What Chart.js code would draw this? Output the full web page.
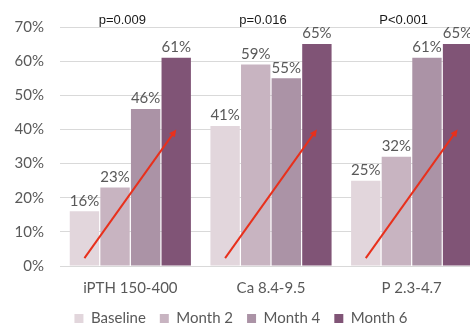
<!DOCTYPE html>
<html>
<head>
<meta charset="utf-8">
<script src="https://cdn.jsdelivr.net/npm/chart.js@4.4.1/dist/chart.umd.min.js"></script>
<style>
  html, body { margin: 0; padding: 0; background: #fff; overflow: hidden; }
  #wrap { position: absolute; left: 0; top: 0; width: 482px; height: 324px; }
</style>
</head>
<body>
<div id="wrap"><canvas id="chart"></canvas></div>
<script>
// datos
const categories = ['iPTH 150-400', 'Ca 8.4-9.5', 'P 2.3-4.7'];
const seriesNames = ['Baseline', 'Month 2', 'Month 4', 'Month 6'];
const baseline = [16, 41, 25];
const month2 = [23, 59, 32];
const month4 = [46, 55, 61];
const month6 = [61, 65, 65];
const pValues = ['p=0.009', 'p=0.016', 'P<0.001'];
const arrowFrom = [2.3, 2.3, 2.3]; // valor en la barra Baseline
const arrowTo = [40, 40, 40];      // valor en la barra Month 6
const yTicks = [0, 10, 20, 30, 40, 50, 60, 70];

const colors = ['#e2d6dc', '#c8b4c1', '#ab93a6', '#805476'];
const grayText = '#595959';

// etiquetas de valor encima de cada barra
const valueLabels = {
    id: 'valueLabels',
    afterDatasetsDraw(chart) {
        const ctx = chart.ctx;
        ctx.save();
        ctx.font = '15px Lato';
        ctx.fillStyle = grayText;
        ctx.textAlign = 'center';
        ctx.textBaseline = 'bottom';
        chart.data.datasets.forEach((ds, i) => {
            chart.getDatasetMeta(i).data.forEach((bar, j) => {
                ctx.fillText(ds.data[j] + '%', bar.x, bar.y - 3);
            });
        });
        ctx.restore();
    }
};

// flechas rojas y valores p
const extras = {
    id: 'extras',
    afterInit(chart) {
        // leyenda mas baja: altura fija
        const fit = chart.legend.fit;
        chart.legend.fit = function () {
            fit.call(this);
            this.height = 27;
        };
    },
    afterDraw(chart) {
        const ctx = chart.ctx;
        const y = chart.scales.y;
        const first = chart.getDatasetMeta(0).data;
        const last = chart.getDatasetMeta(3).data;
        ctx.save();
        ctx.strokeStyle = '#e8301c';
        ctx.fillStyle = '#e8301c';
        ctx.lineWidth = 2;
        categories.forEach((c, j) => {
            const x1 = first[j].x, y1 = y.getPixelForValue(arrowFrom[j]);
            const x2 = last[j].x, y2 = y.getPixelForValue(arrowTo[j]);
            const ang = Math.atan2(y2 - y1, x2 - x1);
            ctx.beginPath();
            ctx.moveTo(x1, y1);
            ctx.lineTo(x2 - 4 * Math.cos(ang), y2 - 4 * Math.sin(ang));
            ctx.stroke();
            ctx.beginPath();
            ctx.moveTo(x2, y2);
            ctx.lineTo(x2 - 8 * Math.cos(ang - 0.45), y2 - 8 * Math.sin(ang - 0.45));
            ctx.lineTo(x2 - 8 * Math.cos(ang + 0.45), y2 - 8 * Math.sin(ang + 0.45));
            ctx.closePath();
            ctx.fill();
        });
        ctx.font = '13px "Liberation Sans"';
        ctx.fillStyle = '#1a1a1a';
        ctx.textAlign = 'center';
        ctx.textBaseline = 'middle';
        const x = chart.scales.x;
        pValues.forEach((p, j) => {
            ctx.fillText(p, x.getPixelForValue(j) - 8, 20);
        });
        ctx.restore();
    }
};

const ctx = document.getElementById('chart').getContext('2d');
const chart = new Chart(ctx, {
    type: 'bar',
    data: {
        labels: categories,
        datasets: [baseline, month2, month4, month6].map((d, i) => ({
            label: seriesNames[i],
            data: d,
            backgroundColor: colors[i],
            barPercentage: 0.96,
            categoryPercentage: 0.87
        }))
    },
    options: {
        responsive: true,
        maintainAspectRatio: false,
        animation: false,
        layout: { padding: { top: 27, left: 0, right: 0, bottom: 0 } },
        plugins: {
            legend: {
                position: 'bottom',
                labels: {
                    font: { family: 'Lato', size: 15 },
                    color: grayText,
                    boxWidth: 9,
                    boxHeight: 9,
                    padding: 14
                }
            },
            tooltip: { enabled: false }
        },
        scales: {
            x: {
                afterFit(scale) { scale.height = 31; },
                grid: { display: false, drawTicks: false },
                border: { display: false },
                ticks: { font: { family: 'Lato', size: 15 }, color: grayText, padding: 13 }
            },
            y: {
                min: 0,
                max: 70,
                afterBuildTicks(scale) { scale.ticks = yTicks.map(v => ({ value: v })); },
                afterFit(scale) { scale.width = 60; },
                grid: { color: '#d9d9d9', drawTicks: false },
                border: { display: false },
                ticks: {
                    font: { family: 'Lato', size: 15 },
                    color: grayText,
                    padding: 16,
                    callback: v => v + '%'
                }
            }
        }
    },
    plugins: [valueLabels, extras]
});
</script>
</body>
</html>
